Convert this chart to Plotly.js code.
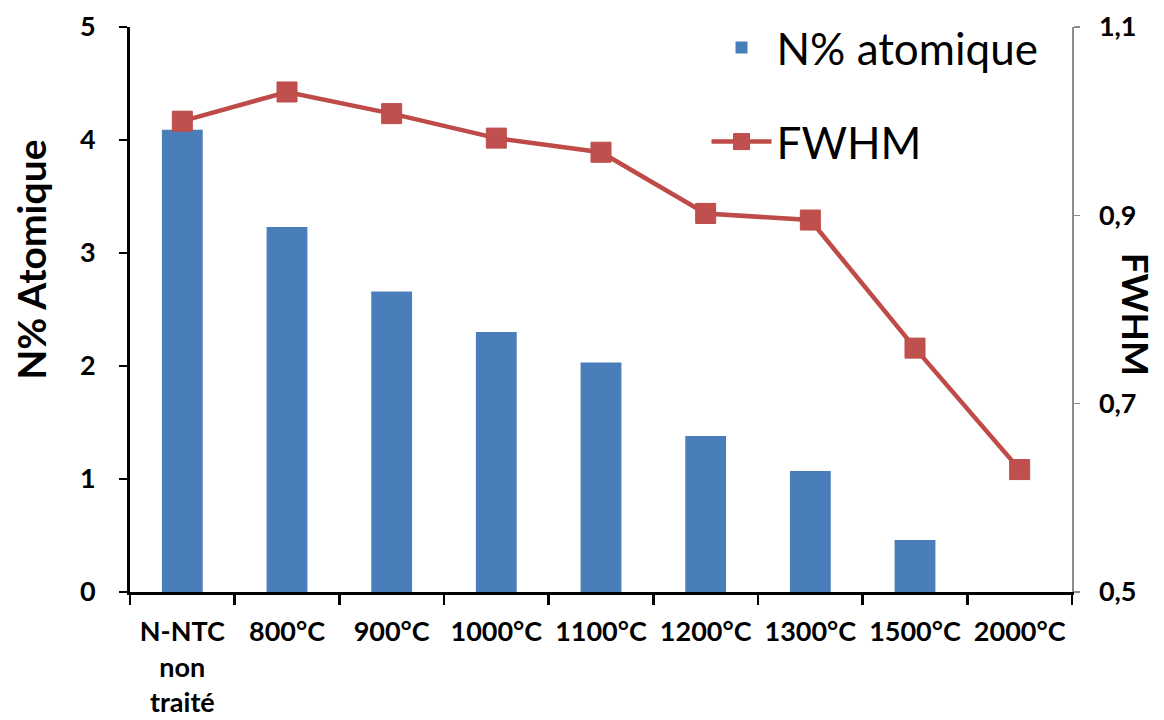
<!DOCTYPE html>
<html>
<head>
<meta charset="utf-8">
<script src="https://cdn.plot.ly/plotly-3.0.1.min.js"></script>
<style>
html, body { margin: 0; padding: 0; background: #ffffff; }
#chart { width: 1164px; height: 720px; }
</style>
</head>
<body>
<div id="chart"></div>
<script>
// ---- data ----
var categories = ["N-NTC<br>non<br>traité", "800°C", "900°C", "1000°C", "1100°C", "1200°C", "1300°C", "1500°C", "2000°C"];
var nAtomique = [4.09, 3.23, 2.66, 2.30, 2.03, 1.38, 1.07, 0.46, 0];
var fwhm = [1.000, 1.031, 1.008, 0.982, 0.967, 0.902, 0.895, 0.759, 0.630];
var leftTicks = [0, 1, 2, 3, 4, 5];
var rightTicks = [0.5, 0.7, 0.9, 1.1];
var seriesNames = ["N% atomique", "FWHM"];
var leftTitle = "N% Atomique";
var rightTitle = "FWHM";

var FONT = "Lato, 'Open Sans', 'DejaVu Sans', sans-serif";
var tickFont = { family: FONT, size: 27, color: "#000000", weight: "bold" };

var traces = [
  {
    type: "bar",
    name: seriesNames[0],
    x: categories,
    y: nAtomique,
    marker: { color: "#4a7ebb", line: { width: 0 } },
    legendgroup: "a",
    hoverinfo: "x+y"
  },
  {
    type: "scatter",
    mode: "lines+markers",
    name: seriesNames[1],
    x: categories,
    y: fwhm,
    yaxis: "y2",
    line: { color: "#be4b48", width: 4.5 },
    marker: { symbol: "square", size: 20, color: "#c0504d", line: { color: "#be4b48", width: 1 } },
    legendgroup: "b",
    hoverinfo: "x+y"
  }
];

var layout = {
  width: 1164,
  height: 720,
  margin: { l: 130, r: 92, t: 25, b: 128 },
  paper_bgcolor: "#ffffff",
  plot_bgcolor: "#ffffff",
  separators: ", ",
  font: { family: FONT, color: "#000000" },
  bargap: 0.61,
  showlegend: true,
  legend: {
    x: 0.612, y: 1.026, xanchor: "left", yanchor: "top",
    bgcolor: "rgba(0,0,0,0)",
    font: { family: FONT, size: 44, color: "#000000" },
    traceorder: "grouped",
    tracegroupgap: 34,
    itemwidth: 60
  },
  xaxis: {
    type: "category",
    range: [-0.5, 8.5],
    showline: true, linecolor: "#000000", linewidth: 3,
    ticks: "outside", tickson: "boundaries", ticklen: 10, tickwidth: 2.5, tickcolor: "#000000",
    tickfont: tickFont,
    ticklabelstandoff: 14,
    showgrid: false, zeroline: false, fixedrange: true
  },
  yaxis: {
    range: [0, 5],
    tickvals: leftTicks,
    showline: true, linecolor: "#000000", linewidth: 3,
    ticks: "outside", ticklen: 8, tickwidth: 2.5, tickcolor: "#000000",
    tickfont: tickFont,
    ticklabelstandoff: 18,
    showgrid: false, zeroline: false, fixedrange: true
  },
  yaxis2: {
    overlaying: "y",
    side: "right",
    range: [0.5, 1.1],
    tickvals: rightTicks,
    tickformat: ".1f",
    showline: true, linecolor: "#8c8c8c", linewidth: 1.5,
    ticks: "outside", ticklen: 6, tickwidth: 1.5, tickcolor: "#8c8c8c",
    tickfont: tickFont,
    ticklabelstandoff: 14,
    showgrid: false, zeroline: false, fixedrange: true
  },
  annotations: [
    {
      text: leftTitle, xref: "paper", yref: "paper", x: -0.105, y: 0.588,
      xanchor: "center", yanchor: "middle", textangle: -90, showarrow: false,
      font: { family: FONT, size: 39, color: "#000000", weight: "bold" }
    },
    {
      text: rightTitle, xref: "paper", yref: "paper", x: 1.068, y: 0.4925,
      xanchor: "center", yanchor: "middle", textangle: 90, showarrow: false,
      font: { family: FONT, size: 37, color: "#000000", weight: "bold" }
    }
  ]
};

Plotly.newPlot("chart", traces, layout, { displayModeBar: false, staticPlot: true });
</script>
</body>
</html>
